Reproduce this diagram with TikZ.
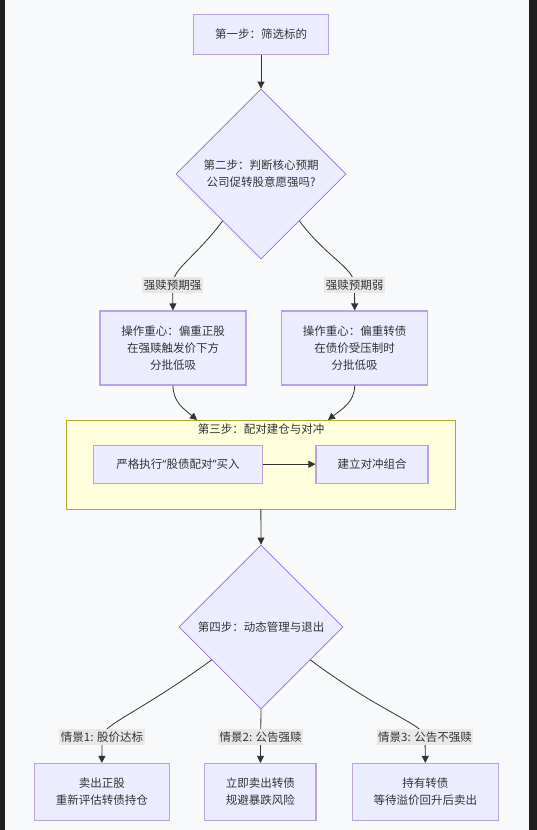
\documentclass[tikz,border=0pt]{standalone}
\usepackage{fontspec}
\newfontfamily\cjk{Noto Sans CJK SC}
\newfontfamily\lat{Noto Sans}
\usetikzlibrary{shapes.geometric,arrows.meta,calc}
\definecolor{bgc}{HTML}{F8F9FA}
\definecolor{darkc}{HTML}{1E1E1E}
\definecolor{nodefill}{HTML}{ECECFF}
\definecolor{nodestroke}{HTML}{9370DB}
\definecolor{txt}{HTML}{333333}
\definecolor{lblfill}{HTML}{E8E8E8}
\definecolor{grpfill}{HTML}{FFFFDE}
\definecolor{grpstroke}{HTML}{AAAA33}
\tikzset{
  base/.style={font=\cjk\fontsize{11.5}{17}\selectfont, text=txt, align=center},
  box/.style={base, draw=nodestroke!65, line width=1.1pt, fill=nodefill, inner sep=0pt},
  dia/.style={base, diamond, draw=nodestroke, line width=0.8pt, fill=nodefill, inner sep=0pt, aspect=1},
  lbl/.style={base, fill=lblfill, inner sep=1.5pt, minimum height=16pt},
  edge/.style={draw=txt, line width=0.8pt},
  arr/.style={edge, -{Triangle[length=7pt,width=7pt]}},
}
\begin{document}
\begin{tikzpicture}[x=1pt,y=-1pt]
\useasboundingbox (0,0) rectangle (537,830);
\fill[darkc] (0,0) rectangle (537,830);
\fill[bgc] (5,0) rectangle (529,830);

% group
\node[draw=grpstroke, line width=0.8pt, fill=grpfill, minimum width=388.3pt, minimum height=89pt, inner sep=0pt] (grp) at (260.85,464.5) {};
\node[base] (gt) at (261,429.3) {第三步：配对建仓与对冲};

% nodes
\node[box, minimum width=135.4pt, minimum height=40.5pt] (s1) at (261,34.5) {第一步：筛选标的};
\node[dia, minimum width=170pt, minimum height=170pt] (d1) at (261,174) {第二步：判断核心预期\\公司促转股意愿强吗?};
\node[box, minimum width=146pt, minimum height=74pt] (b1) at (173,348) {操作重心：偏重正股\\在强赎触发价下方\\分批低吸};
\node[box, minimum width=146pt, minimum height=74pt] (b2) at (354.7,348) {操作重心：偏重转债\\在债价受压制时\\分批低吸};
\node[box, minimum width=169.4pt, minimum height=38.3pt] (g1) at (178,464.2) {严格执行{\lat “}股债配对{\lat ”}买入};
\node[box, minimum width=112pt, minimum height=38.3pt] (g2) at (372,464.2) {建立对冲组合};
\node[dia, minimum width=164pt, minimum height=164pt] (d2) at (261,627) {第四步：动态管理与退出};
\node[box, minimum width=135.3pt, minimum height=57pt] (e1) at (101.85,792) {卖出正股\\重新评估转债持仓};
\node[box, minimum width=111.2pt, minimum height=57pt] (e2) at (260.4,792) {立即卖出转债\\规避暴跌风险};
\node[box, minimum width=146pt, minimum height=57pt] (e3) at (425.35,792) {持有转债\\等待溢价回升后卖出};

% label positions
\coordinate (p1) at (172.5,285);
\coordinate (p2) at (354.5,285);
\coordinate (q1) at (102,737);
\coordinate (q2) at (260.7,737);
\coordinate (q3) at (425,737);

% exit points
\coordinate (x1) at ($(d1.west)!0.55!(d1.south)$);
\coordinate (x2) at ($(d1.east)!0.55!(d1.south)$);
\coordinate (y1) at ($(d2.west)!0.4!(d2.south)$);
\coordinate (y3) at ($(d2.east)!0.4!(d2.south)$);
\coordinate (t1) at (197,420);
\coordinate (t2) at (328,420);

% edges
\draw[arr] (s1.south) -- (d1.north);
\draw[edge] (x1) .. controls (195,258) and (173,268) .. (p1);
\draw[arr] (p1) -- (b1.north);
\draw[edge] (x2) .. controls (327,258) and (354.5,268) .. (p2);
\draw[arr] (p2) -- (b2.north);
\draw[arr] (b1.south) .. controls (173,402) and (184,409) .. (t1);
\draw[arr] (b2.south) .. controls (354.7,402) and (342,409) .. (t2);
\draw[arr] (g1.east) -- (g2.west);
\draw[arr] (grp.south) -- (d2.north);
\draw[edge] (y1) .. controls (140,712) and (102,725) .. (q1);
\draw[arr] (q1) -- (e1.north);
\draw[arr] (d2.south) -- (e2.north);
\draw[edge] (y3) .. controls (380,712) and (425,725) .. (q3);
\draw[arr] (q3) -- (e3.north);

% labels
\node[lbl] (L1) at (p1) {强赎预期强};
\node[lbl] (L2) at (p2) {强赎预期弱};
\node[lbl] (M1) at (q1) {情景1: 股价达标};
\node[lbl] (M2) at (q2) {情景2: 公告强赎};
\node[lbl] (M3) at (q3) {情景3: 公告不强赎};
\end{tikzpicture}
\end{document}
